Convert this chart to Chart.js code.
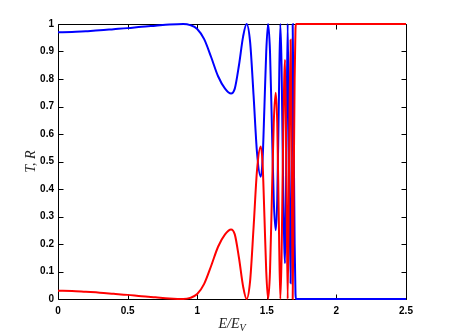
<!DOCTYPE html>
<html>
<head>
<meta charset="utf-8">
<script src="https://cdn.jsdelivr.net/npm/chart.js@4/dist/chart.umd.min.js"></script>
<style>
html,body{margin:0;padding:0;background:#fff;}
canvas{display:block;}
</style>
</head>
<body>
<canvas id="c" width="449" height="336"></canvas>
<script>
// Energy ratio E/E_V
const energy = [0.00,0.10,0.20,0.30,0.40,0.50,0.60,0.70,0.80,0.90,0.95,1.00,1.05,1.10,1.15,1.20,1.243,1.27,1.30,1.33,1.355,1.38,1.405,1.43,1.456,1.47,1.483,1.496,1.509,1.523,1.537,1.550,1.564,1.575,1.586,1.597,1.606,1.618,1.631,1.640,1.650,1.660,1.671,1.679,1.686,1.693,1.700,1.706,1.710,1.80,2.00,2.20,2.50];
// Transmission T (blue)
const transmission = [0.970,0.971,0.974,0.977,0.981,0.985,0.990,0.994,0.998,1.000,0.996,0.982,0.945,0.880,0.810,0.765,0.747,0.765,0.850,0.955,1.000,0.935,0.740,0.530,0.445,0.510,0.700,0.900,1.000,0.900,0.620,0.360,0.250,0.360,0.700,1.000,0.850,0.400,0.130,0.500,1.000,0.500,0.057,0.500,1.000,0.600,0.200,0.020,0.000,0.000,0.000,0.000,0.000];
// Reflection R (red)
const reflection = [0.030,0.029,0.026,0.023,0.019,0.015,0.010,0.006,0.002,0.000,0.004,0.018,0.055,0.120,0.190,0.235,0.253,0.235,0.150,0.045,0.000,0.065,0.260,0.470,0.555,0.490,0.300,0.100,0.000,0.100,0.380,0.640,0.750,0.640,0.300,0.000,0.150,0.600,0.870,0.500,0.000,0.500,0.943,0.500,0.000,0.400,0.800,0.980,1.000,1.000,1.000,1.000,1.000];
const xTicks = [0,0.5,1,1.5,2,2.5];
const yTicks = [0,0.1,0.2,0.3,0.4,0.5,0.6,0.7,0.8,0.9,1];
const xTitle = ['E/E', 'V'];
const yTitle = 'T, R';

const pts = (ys) => energy.map((x, i) => ({x: x, y: ys[i]}));

const frame = {
  id: 'frame',
  beforeDatasetsDraw(chart) {
    const {ctx, chartArea: a, scales} = chart;
    ctx.save();
    ctx.strokeStyle = '#000';
    ctx.lineWidth = 1;
    ctx.beginPath();
    const L = Math.round(a.left) + 0.5, R = Math.round(a.right) + 0.5;
    const T = Math.round(a.top) + 0.5, B = Math.round(a.bottom) + 0.5;
    ctx.rect(L, T, R - L, B - T);
    const tl = 5;
    xTicks.forEach(v => {
      const px = Math.round(scales.x.getPixelForValue(v)) + 0.5;
      ctx.moveTo(px, B); ctx.lineTo(px, B - tl);
      ctx.moveTo(px, T); ctx.lineTo(px, T + tl);
    });
    yTicks.forEach(v => {
      const py = Math.round(scales.y.getPixelForValue(v)) + 0.5;
      ctx.moveTo(L, py); ctx.lineTo(L + tl, py);
      ctx.moveTo(R, py); ctx.lineTo(R - tl, py);
    });
    ctx.stroke();
    ctx.restore();
  },
  afterDraw(chart) {
    const {ctx, chartArea: a} = chart;
    ctx.save();
    ctx.fillStyle = '#222';
    ctx.textBaseline = 'alphabetic';
    ctx.font = 'italic 14px "Liberation Serif", "DejaVu Serif", serif';
    const w1 = ctx.measureText(xTitle[0]).width;
    ctx.font = 'italic 10px "Liberation Serif", "DejaVu Serif", serif';
    const w2 = ctx.measureText(xTitle[1]).width;
    const cx = (a.left + a.right) / 2;
    const sx = cx - (w1 + w2) / 2;
    ctx.font = 'italic 14px "Liberation Serif", "DejaVu Serif", serif';
    ctx.textAlign = 'left';
    ctx.fillText(xTitle[0], sx, 328);
    ctx.font = 'italic 10px "Liberation Serif", "DejaVu Serif", serif';
    ctx.fillText(xTitle[1], sx + w1, 331);
    ctx.translate(35, (a.top + a.bottom) / 2);
    ctx.rotate(-Math.PI / 2);
    ctx.font = 'italic 14px "Liberation Serif", "DejaVu Serif", serif';
    ctx.textAlign = 'center';
    ctx.fillText(yTitle, 0, 0);
    ctx.restore();
  }
};

const tickFont = {family: '"Liberation Sans", Arial, sans-serif', size: 10, weight: 'bold'};

new Chart(document.getElementById('c'), {
  type: 'line',
  data: {
    datasets: [
      {label: 'R', data: pts(reflection), borderColor: '#ff0000', borderWidth: 2, pointRadius: 0, cubicInterpolationMode: 'monotone', fill: false, order: 0, clip: 4},
      {label: 'T', data: pts(transmission), borderColor: '#0000ff', borderWidth: 2, pointRadius: 0, cubicInterpolationMode: 'monotone', fill: false, order: 1, clip: 4}
    ]
  },
  options: {
    responsive: false,
    animation: false,
    events: [],
    layout: {padding: {top: 24, right: 43, left: 0, bottom: 0}},
    plugins: {legend: {display: false}, tooltip: {enabled: false}},
    scales: {
      x: {
        type: 'linear', min: 0, max: 2.5,
        afterBuildTicks: s => { s.ticks = xTicks.map(v => ({value: v})); },
        afterFit: s => { s.height = 37; },
        grid: {display: false, drawTicks: false},
        border: {display: false},
        ticks: {color: '#000', font: tickFont, padding: 6, maxRotation: 0, autoSkip: false, callback: v => String(v)}
      },
      y: {
        type: 'linear', min: 0, max: 1,
        afterBuildTicks: s => { s.ticks = yTicks.map(v => ({value: v})); },
        afterFit: s => { s.width = 58; },
        grid: {display: false, drawTicks: false},
        border: {display: false},
        ticks: {color: '#000', font: tickFont, padding: 4, autoSkip: false, callback: v => String(v)}
      }
    }
  },
  plugins: [frame]
});
</script>
</body>
</html>
